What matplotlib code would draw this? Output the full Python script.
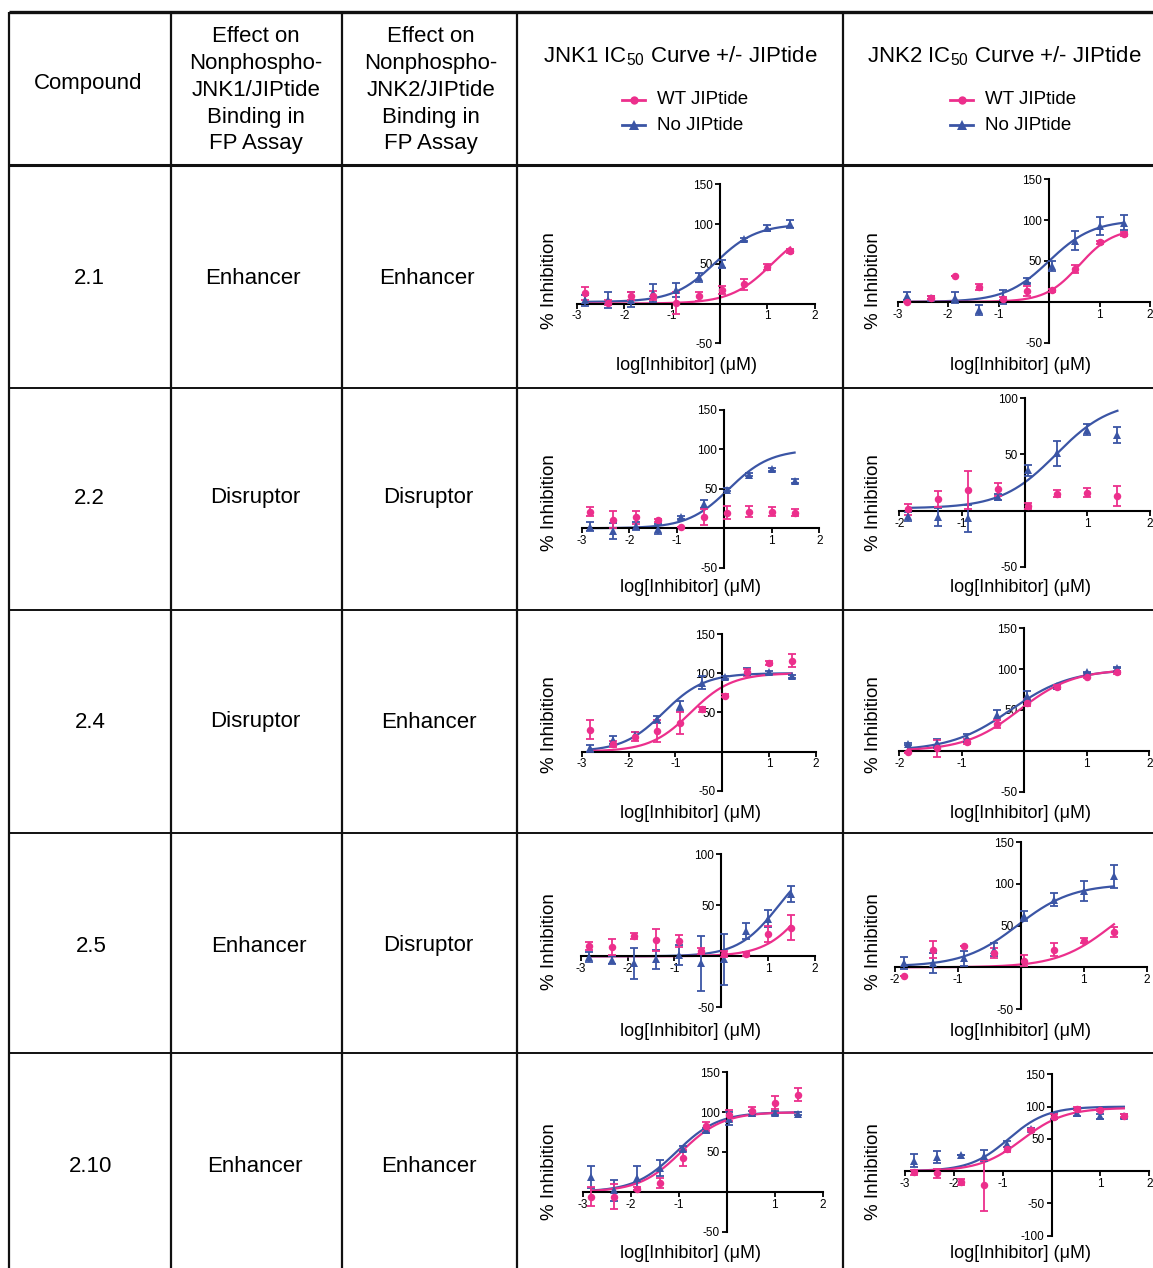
import numpy as np
import matplotlib
matplotlib.use('Agg')
import matplotlib.pyplot as plt
from matplotlib.lines import Line2D

plt.rcParams['font.family'] = ['Liberation Sans', 'DejaVu Sans']
plt.rcParams['mathtext.fontset'] = 'custom'
plt.rcParams['mathtext.rm'] = 'Liberation Sans'
plt.rcParams['mathtext.it'] = 'Liberation Sans:italic'
plt.rcParams['axes.unicode_minus'] = False

W, H = 1153, 1268
PINK = '#EC2F8C'
BLUE = '#3B55A5'

# ---------------- data ----------------
compounds = ['2.1', '2.2', '2.4', '2.5', '2.10']
effect_jnk1 = ['Enhancer', 'Disruptor', 'Disruptor', 'Enhancer', 'Enhancer']
effect_jnk2 = ['Enhancer', 'Disruptor', 'Enhancer', 'Disruptor', 'Enhancer']

log_conc = [-2.82, -2.34, -1.86, -1.39, -0.91, -0.43, 0.05, 0.52, 1.00, 1.48]
log_conc_short = [-1.86, -1.39, -0.91, -0.43, 0.05, 0.52, 1.00, 1.48]

# 2.1 JNK1
c21_j1_wt = [13, 1, 9, 10, 1, 9, 17, 24, 46, 66]
c21_j1_wt_err = [8, 3, 5, 6, 14, 6, 5, 7, 4, 2]
c21_j1_no = [4, 5, 5, 13, 17, 33, 50, 81, 95, 100]
c21_j1_no_err = [7, 10, 9, 11, 9, 6, 5, 2, 4, 5]
c21_j1_wt_fit = [0, 100, 1.1, 1.0]
c21_j1_no_fit = [2, 100, -0.1, 1.0]
# 2.1 JNK2
c21_j2_wt = [0, 5, 32, 18, 4, 13, 14, 40, 73, 83]
c21_j2_wt_err = [0, 2, 0, 4, 2, 6, 2, 5, 2, 2]
c21_j2_no = [7, 5, 5, -10, 6, 26, 44, 75, 93, 97]
c21_j2_no_err = [5, 2, 7, 6, 9, 3, 6, 12, 11, 9]
c21_j2_wt_fit = [0, 90, 0.6, 1.3]
c21_j2_no_fit = [0, 100, 0.0, 1.0]
# 2.2 JNK1
c22_j1_wt = [21, 11, 14, 10, 1, 14, 20, 21, 21, 20]
c22_j1_wt_err = [6, 11, 8, 2, 0, 10, 8, 7, 6, 5]
c22_j1_no = [2, -3, 3, -1, 14, 31, 49, 68, 75, 60]
c22_j1_no_err = [6, 10, 5, 6, 2, 5, 2, 2, 2, 2]
c22_j1_no_fit = [0, 100, 0.1, 1.0]
# 2.2 JNK2
c22_j2_wt = [1, 10, 18, 19, 4, 15, 16, 13]
c22_j2_wt_err = [5, 7, 17, 6, 3, 3, 4, 9]
c22_j2_no = [-5, -6, -7, 12, 36, 51, 72, 67]
c22_j2_no_err = [4, 8, 12, 3, 5, 11, 5, 7]
c22_j2_no_fit = [2, 98, 0.5, 1.0]
# 2.4 JNK1
c24_j1_wt = [28, 10, 19, 26, 37, 54, 71, 101, 113, 116]
c24_j1_wt_err = [12, 4, 6, 14, 14, 3, 2, 4, 2, 8]
c24_j1_no = [4, 15, 21, 41, 58, 88, 95, 102, 101, 96]
c24_j1_no_err = [4, 5, 4, 4, 6, 8, 2, 4, 2, 2]
c24_j1_wt_fit = [0, 100, -0.67, 1.0]
c24_j1_no_fit = [0, 100, -1.25, 1.0]
# 2.4 JNK2
c24_j2_wt = [-2, 3, 11, 33, 59, 78, 91, 96]
c24_j2_wt_err = [1, 10, 3, 5, 4, 2, 2, 2]
c24_j2_no = [8, 9, 16, 44, 67, 79, 96, 102]
c24_j2_no_err = [1, 6, 5, 6, 6, 2, 1, 1]
c24_j2_wt_fit = [0, 100, -0.08, 1.0]
c24_j2_no_fit = [0, 100, -0.22, 0.9]
# 2.5 JNK1
c25_j1_wt = [10, 9, 20, 16, 15, 5, 2, 2, 22, 28]
c25_j1_wt_err = [4, 8, 3, 11, 6, 3, 3, 2, 8, 12]
c25_j1_no = [-1, -4, -7, -3, 1, -7, -3, 25, 37, 61]
c25_j1_no_err = [5, 4, 15, 9, 10, 27, 25, 8, 8, 8]
c25_j1_wt_fit = [0, 100, 1.85, 1.0]
c25_j1_no_fit = [0, 100, 1.23, 1.0]
# 2.5 JNK2
c25_j2_wt = [-11, 21, 25, 17, 8, 21, 32, 42]
c25_j2_wt_err = [0, 10, 0, 6, 7, 8, 3, 6]
c25_j2_no = [5, 5, 11, 21, 62, 81, 92, 109]
c25_j2_no_err = [7, 12, 9, 8, 6, 8, 12, 14]
c25_j2_wt_fit = [0, 100, 1.45, 1.0]
c25_j2_no_fit = [1, 100, -0.05, 1.0]
# 2.10 JNK1
c210_j1_wt = [-6, -6, 4, 11, 42, 82, 96, 101, 112, 122]
c210_j1_wt_err = [12, 16, 2, 6, 10, 6, 7, 6, 8, 8]
c210_j1_no = [19, 2, 17, 30, 54, 77, 92, 99, 99, 98]
c210_j1_no_err = [14, 13, 15, 10, 3, 3, 8, 2, 2, 2]
c210_j1_wt_fit = [0, 100, -0.95, 1.0]
c210_j1_no_fit = [0, 100, -1.05, 1.0]
# 2.10 JNK2
c210_j2_wt = [-2, -3, -17, -22, 34, 64, 84, 97, 95, 86]
c210_j2_wt_err = [4, 7, 5, 40, 4, 2, 4, 2, 2, 2]
c210_j2_no = [16, 22, 25, 24, 42, 65, 85, 90, 85, 85]
c210_j2_no_err = [10, 9, 0, 8, 5, 2, 5, 5, 4, 3]
c210_j2_wt_fit = [0, 98, -0.6, 1.0]
c210_j2_no_fit = [0, 100, -0.88, 1.1]

panels = [
    # px: (x_left, x_right, y_top, y_bottom) in image pixels ; lim: (xmin, xmax, ymin, ymax)
    dict(px=(576.7, 815, 184.3, 343.3), lim=(-3, 2, -50, 150), x=log_conc,
         wt=c21_j1_wt, wte=c21_j1_wt_err, no=c21_j1_no, noe=c21_j1_no_err,
         wtf=c21_j1_wt_fit, nof=c21_j1_no_fit, yt=[-50, 50, 100, 150]),
    dict(px=(897.7, 1150, 179.3, 342.7), lim=(-3, 2, -50, 150), x=log_conc,
         wt=c21_j2_wt, wte=c21_j2_wt_err, no=c21_j2_no, noe=c21_j2_no_err,
         wtf=c21_j2_wt_fit, nof=c21_j2_no_fit, yt=[-50, 50, 100, 150]),
    dict(px=(581.7, 819.3, 410, 567.7), lim=(-3, 2, -50, 150), x=log_conc,
         wt=c22_j1_wt, wte=c22_j1_wt_err, no=c22_j1_no, noe=c22_j1_no_err,
         wtf=None, nof=c22_j1_no_fit, yt=[-50, 50, 100, 150]),
    dict(px=(899.3, 1150, 398.3, 566.7), lim=(-2, 2, -50, 100), x=log_conc_short,
         wt=c22_j2_wt, wte=c22_j2_wt_err, no=c22_j2_no, noe=c22_j2_no_err,
         wtf=None, nof=c22_j2_no_fit, yt=[-50, 50, 100]),
    dict(px=(581.7, 816, 634, 790.7), lim=(-3, 2, -50, 150), x=log_conc,
         wt=c24_j1_wt, wte=c24_j1_wt_err, no=c24_j1_no, noe=c24_j1_no_err,
         wtf=c24_j1_wt_fit, nof=c24_j1_no_fit, yt=[-50, 50, 100, 150]),
    dict(px=(899.3, 1149.3, 628.3, 791.7), lim=(-2, 2, -50, 150), x=log_conc_short,
         wt=c24_j2_wt, wte=c24_j2_wt_err, no=c24_j2_no, noe=c24_j2_no_err,
         wtf=c24_j2_wt_fit, nof=c24_j2_no_fit, yt=[-50, 50, 100, 150]),
    dict(px=(580.7, 815, 854.3, 1007.3), lim=(-3, 2, -50, 100), x=log_conc,
         wt=c25_j1_wt, wte=c25_j1_wt_err, no=c25_j1_no, noe=c25_j1_no_err,
         wtf=c25_j1_wt_fit, nof=c25_j1_no_fit, yt=[-50, 50, 100]),
    dict(px=(895, 1146.7, 842.3, 1009), lim=(-2, 2, -50, 150), x=log_conc_short,
         wt=c25_j2_wt, wte=c25_j2_wt_err, no=c25_j2_no, noe=c25_j2_no_err,
         wtf=c25_j2_wt_fit, nof=c25_j2_no_fit, yt=[-50, 50, 100, 150]),
    dict(px=(582.7, 822.7, 1072.3, 1231.7), lim=(-3, 2, -50, 150), x=log_conc,
         wt=c210_j1_wt, wte=c210_j1_wt_err, no=c210_j1_no, noe=c210_j1_no_err,
         wtf=c210_j1_wt_fit, nof=c210_j1_no_fit, yt=[-50, 50, 100, 150]),
    dict(px=(905, 1149.3, 1074.3, 1235.7), lim=(-3, 2, -100, 150), x=log_conc,
         wt=c210_j2_wt, wte=c210_j2_wt_err, no=c210_j2_no, noe=c210_j2_no_err,
         wtf=c210_j2_wt_fit, nof=c210_j2_no_fit, yt=[-100, -50, 50, 100, 150]),
]


def four_pl(x, p):
    bottom, top, logic50, hill = p
    return bottom + (top - bottom) / (1 + 10 ** ((logic50 - x) * hill))


fig = plt.figure(figsize=(W / 100, H / 100), dpi=100)
fig.patch.set_facecolor('white')
bg = fig.add_axes([0, 0, 1, 1])
bg.set_xlim(0, W)
bg.set_ylim(H, 0)
bg.axis('off')

# ---------------- table grid ----------------
LC = '#111111'
bg.plot([9, W], [12, 12], color=LC, lw=2.4, solid_capstyle='butt')
bg.plot([9, W], [165, 165], color=LC, lw=2.2, solid_capstyle='butt')
for yy in [388, 610, 833, 1053]:
    bg.plot([9, W], [yy, yy], color=LC, lw=1.4, solid_capstyle='butt')
for xx in [9, 171, 342, 517, 843]:
    bg.plot([xx, xx], [12, H], color=LC, lw=1.6, solid_capstyle='butt')

# ---------------- header ----------------
HFS = 16
bg.text(88, 84, 'Compound', fontsize=HFS, ha='center', va='center')
hdr_lines = ['Effect on', 'Nonphospho-', None, 'Binding in', 'FP Assay']
for cx, jn in [(256, 'JNK1/JIPtide'), (431, 'JNK2/JIPtide')]:
    for i, ys in enumerate([37, 64, 90, 117, 144]):
        t = hdr_lines[i] if hdr_lines[i] is not None else jn
        bg.text(cx, ys, t, fontsize=HFS, ha='center', va='center')

for cx, name, lx in [(680, 'JNK1', 622), (1004, 'JNK2', 950)]:
    bg.text(cx, 56, name + r' IC$_{50}$ Curve +/- JIPtide', fontsize=HFS,
            ha='center', va='center')
    bg.add_line(Line2D([lx, lx + 23], [100, 100], color=PINK, lw=2.0))
    bg.plot([lx + 11.5], [100], 'o', color=PINK, ms=6, mew=0)
    bg.add_line(Line2D([lx, lx + 23], [125, 125], color=BLUE, lw=2.0))
    bg.plot([lx + 11.5], [125], '^', color=BLUE, ms=6.5, mew=0)
    bg.text(lx + 35, 99, 'WT JIPtide', fontsize=13.5, ha='left', va='center')
    bg.text(lx + 35, 125, 'No JIPtide', fontsize=13.5, ha='left', va='center')

# ---------------- row labels ----------------
row_y = [278, 498, 722, 946, 1166]
col1_x = [89, 89, 90, 91, 91]
col2_x = [253, 255, 255, 259, 255]
col3_x = [427, 428, 429, 428, 429]
for i in range(5):
    bg.text(col1_x[i], row_y[i], compounds[i], fontsize=HFS, ha='center', va='center')
    bg.text(col2_x[i], row_y[i], effect_jnk1[i], fontsize=HFS, ha='center', va='center')
    bg.text(col3_x[i], row_y[i], effect_jnk2[i], fontsize=HFS, ha='center', va='center')

# axis labels
ylab_y = [281, 503, 725, 942, 1172]
xlab_y = [365, 588, 814, 1032, 1254]
xlab_x1 = [686, 690, 690, 690, 690]
for i in range(5):
    for xx in [549, 873]:
        bg.text(xx, ylab_y[i], '% Inhibition', fontsize=13.5, rotation=90,
                ha='center', va='center')
    bg.text(xlab_x1[i], xlab_y[i], 'log[Inhibitor] (\u03bcM)', fontsize=13,
            ha='center', va='center')
    bg.text(1020, xlab_y[i], 'log[Inhibitor] (\u03bcM)', fontsize=13,
            ha='center', va='center')


# ---------------- panels ----------------
def draw_panel(p):
    xl, xr, yt, yb = p['px']
    x0, x1, y0, y1 = p['lim']
    ax = fig.add_axes([xl / W, 1 - yb / H, (xr - xl) / W, (yb - yt) / H])
    ax.set_xlim(x0, x1)
    ax.set_ylim(y0, y1)
    ax.patch.set_visible(False)
    for s in ['top', 'right']:
        ax.spines[s].set_visible(False)
    ax.spines['left'].set_position(('data', 0))
    ax.spines['bottom'].set_position(('data', 0))
    for s in ['left', 'bottom']:
        ax.spines[s].set_linewidth(1.5)
        ax.spines[s].set_color('black')
    xt = [v for v in range(int(x0), int(x1) + 1) if v != 0]
    ax.set_xticks(xt)
    ax.set_xticklabels([str(v) for v in xt])
    ax.set_yticks(p['yt'])
    ax.set_yticklabels([str(v) for v in p['yt']])
    ax.tick_params(axis='both', length=3.5, width=1.3, labelsize=8.5, pad=1.5,
                   color='black')
    x = np.array(p['x'])
    xs = np.linspace(x.min(), x.max(), 200)
    if p['nof'] is not None:
        ax.plot(xs, four_pl(xs, p['nof']), color=BLUE, lw=1.6, clip_on=False, zorder=2)
    if p['wtf'] is not None:
        ax.plot(xs, four_pl(xs, p['wtf']), color=PINK, lw=1.6, clip_on=False, zorder=2)
    for ys, es, col, mk, ms in [(p['no'], p['noe'], BLUE, '^', 6.0),
                                (p['wt'], p['wte'], PINK, 'o', 5.4)]:
        ys = np.array(ys, float)
        es = np.array(es, float)
        eb = ax.errorbar(x, ys, yerr=es, fmt='none', ecolor=col, elinewidth=1.3,
                         capsize=3.2, capthick=1.3, zorder=3)
        for art in eb.lines[1] + eb.lines[2]:
            art.set_clip_on(False)
        ax.plot(x, ys, mk, color=col, ms=ms, clip_on=False, zorder=4, mew=0)


for p in panels:
    draw_panel(p)

fig.savefig('out.png', dpi=100, facecolor='white')
